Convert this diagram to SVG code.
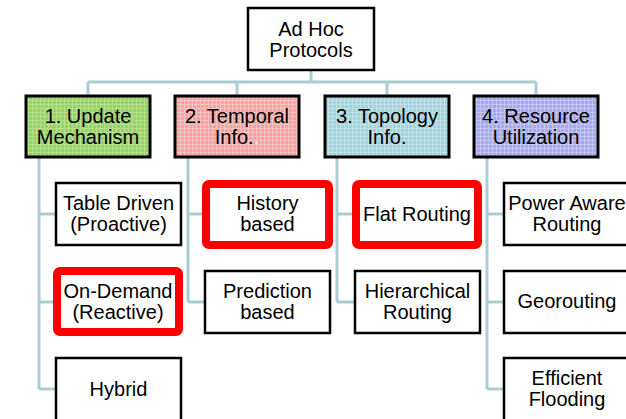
<svg xmlns="http://www.w3.org/2000/svg" width="626" height="419" viewBox="0 0 626 419">
  <defs>
    <!-- fine plaid texture for the category boxes -->
    <pattern id="gridGreen" width="4" height="4" patternUnits="userSpaceOnUse">
      <rect width="4" height="4" fill="#98d264"/>
      <path d="M0 0.5H4M0.5 0V4" stroke="#b4e08c" stroke-width="1"/>
    </pattern>
    <pattern id="gridPink" width="4" height="4" patternUnits="userSpaceOnUse">
      <rect width="4" height="4" fill="#f6a2a2"/>
      <path d="M0 0.5H4M0.5 0V4" stroke="#f9c0c0" stroke-width="1"/>
    </pattern>
    <pattern id="gridTeal" width="4" height="4" patternUnits="userSpaceOnUse">
      <rect width="4" height="4" fill="#a2d3da"/>
      <path d="M0 0.5H4M0.5 0V4" stroke="#c0e2e6" stroke-width="1"/>
    </pattern>
    <pattern id="gridPurple" width="4" height="4" patternUnits="userSpaceOnUse">
      <rect width="4" height="4" fill="#a7a7ec"/>
      <path d="M0 0.5H4M0.5 0V4" stroke="#c4c4f3" stroke-width="1"/>
    </pattern>
  </defs>
  <style>
    .box { fill: #ffffff; stroke: #000000; stroke-width: 2.5; }
    .cat { stroke: #000000; stroke-width: 3; }
    .hl { fill: none; stroke: #ff0000; stroke-width: 8; }
    .conn { fill: none; stroke: #a9cdd2; stroke-width: 3; }
    text { font-family: "Liberation Sans", Arial, sans-serif; font-size: 20px; fill: #000000; text-anchor: middle; }
  </style>

  <rect width="626" height="419" fill="#ffffff"/>

  <!-- connectors -->
  <g id="connectors">
    <path class="conn" d="M311 70V82M88 82H536M88 82V96M237 82V96M387 82V96M536 82V96"/>
    <path class="conn" d="M39 157V389M39 214H56M39 302H56M39 389H56"/>
    <path class="conn" d="M188 157V302M188 214H205M188 302H205"/>
    <path class="conn" d="M337 157V302M337 214H355M337 302H355"/>
    <path class="conn" d="M487 157V389M487 214H504M487 302H504M487 389H504"/>
  </g>

  <!-- root -->
  <g id="root">
    <rect class="box" x="248" y="8" width="126" height="62"/>
    <text x="311" y="36">Ad Hoc</text>
    <text x="311" y="57">Protocols</text>
  </g>

  <!-- categories -->
  <g id="cat-update">
    <rect class="cat" x="26" y="96" width="124" height="61" fill="url(#gridGreen)"/>
    <text x="88" y="123">1. Update</text>
    <text x="88" y="144">Mechanism</text>
  </g>
  <g id="cat-temporal">
    <rect class="cat" x="175" y="96" width="124" height="61" fill="url(#gridPink)"/>
    <text x="237" y="123">2. Temporal</text>
    <text x="237" y="144">Info.<tspan fill="#fff4f4">.</tspan></text>
  </g>
  <g id="cat-topology">
    <rect class="cat" x="325" y="96" width="124" height="61" fill="url(#gridTeal)"/>
    <text x="387" y="123">3. Topology</text>
    <text x="387" y="144">Info.</text>
  </g>
  <g id="cat-resource">
    <rect class="cat" x="474" y="96" width="124" height="61" fill="url(#gridPurple)"/>
    <text x="536" y="123">4. Resource</text>
    <text x="536" y="144">Utilization</text>
  </g>

  <!-- update mechanism -->
  <g id="table-driven">
    <rect class="box" x="56" y="183" width="125" height="62"/>
    <text x="118.5" y="210">Table Driven</text>
    <text x="118.5" y="231">(Proactive)</text>
  </g>
  <g id="on-demand">
    <rect class="hl" x="57" y="271" width="122" height="61" rx="3"/>
    <text x="118" y="298">On-Demand</text>
    <text x="118" y="319">(Reactive)</text>
  </g>
  <g id="hybrid">
    <rect class="box" x="56" y="358" width="125" height="66"/>
    <text x="118.5" y="396">Hybrid</text>
  </g>

  <!-- temporal info -->
  <g id="history-based">
    <rect class="hl" x="206" y="184" width="123" height="61" rx="3"/>
    <text x="267.5" y="210">History</text>
    <text x="267.5" y="231">based</text>
  </g>
  <g id="prediction-based">
    <rect class="box" x="205" y="271" width="125" height="62"/>
    <text x="267.5" y="298">Prediction</text>
    <text x="267.5" y="319">based</text>
  </g>

  <!-- topology info -->
  <g id="flat-routing">
    <rect class="hl" x="356" y="184" width="122" height="61" rx="3"/>
    <text x="417" y="221">Flat Routing</text>
  </g>
  <g id="hierarchical-routing">
    <rect class="box" x="355" y="271" width="125" height="62"/>
    <text x="417.5" y="298">Hierarchical</text>
    <text x="417.5" y="319">Routing</text>
  </g>

  <!-- resource utilization -->
  <g id="power-aware">
    <rect class="box" x="504" y="183" width="126" height="62"/>
    <text x="567" y="210">Power Aware</text>
    <text x="567" y="231">Routing</text>
  </g>
  <g id="georouting">
    <rect class="box" x="504" y="271" width="126" height="62"/>
    <text x="567" y="308">Georouting</text>
  </g>
  <g id="efficient-flooding">
    <rect class="box" x="504" y="358" width="126" height="66"/>
    <text x="567" y="385">Efficient</text>
    <text x="567" y="406">Flooding</text>
  </g>
</svg>
